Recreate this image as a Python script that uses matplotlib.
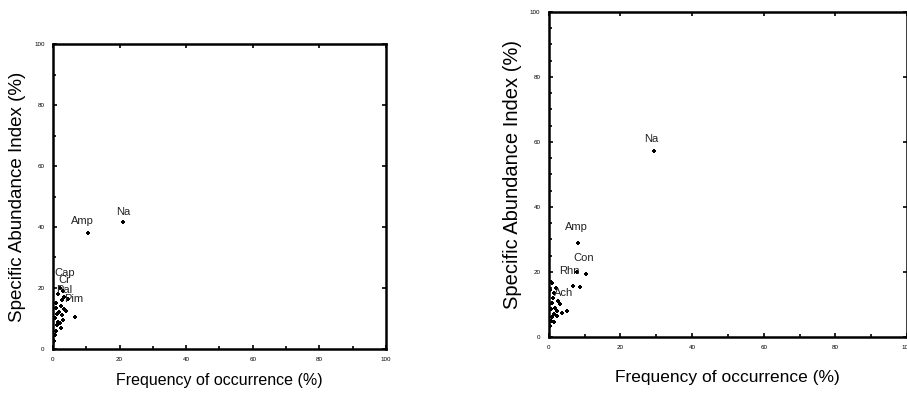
import matplotlib.pyplot as plt
from matplotlib.ticker import MultipleLocator

plt.rcParams['font.family'] = ['Liberation Sans', 'DejaVu Sans']

# left panel
left_freq = [21.0, 10.5, 0.4, 0.7, 1.0, 1.3, 0.6, 1.6, 2.0, 2.6, 3.0, 1.8, 2.3,
             1.0, 3.4, 4.0, 6.5, 2.8, 3.2, 1.5, 4.6, 2.0, 3.0, 0.8, 1.2, 2.5]
left_sai = [41.5, 38.0, 2.5, 4.5, 6.0, 8.0, 10.0, 9.0, 8.5, 11.0, 9.5, 12.0, 14.0,
            15.0, 13.0, 12.5, 10.5, 16.0, 17.0, 18.0, 16.5, 20.0, 19.0, 13.5, 11.5, 7.0]
left_labels = {'Na': (19.0, 44.0), 'Amp': (5.5, 41.0), 'Cap': (0.5, 24.0),
               'Cr': (1.5, 21.5), 'Pal': (0.8, 18.5), 'Pim': (3.5, 15.5)}

# right panel
right_freq = [29.4, 8.2, 10.5, 7.8, 6.8, 8.7, 5.1, 0.3, 0.6, 1.0, 1.4, 0.5, 1.8, 2.2,
              0.8, 1.2, 2.6, 3.2, 1.6, 0.4, 2.0, 3.8, 1.0, 0.6, 1.4, 2.4]
right_sai = [57.3, 29.0, 19.3, 20.0, 15.8, 15.4, 7.9, 3.5, 5.0, 6.0, 7.0, 8.5, 9.0, 8.0,
             10.5, 12.0, 11.0, 10.0, 13.5, 14.5, 15.0, 7.5, 16.5, 17.0, 4.5, 6.5]
right_labels = {'Na': (26.5, 60.0), 'Amp': (4.5, 33.0), 'Con': (6.8, 23.5),
                'Rhn': (3.0, 19.5), 'Ach': (1.5, 12.5)}

fig = plt.figure(figsize=(9.07, 3.93), dpi=100)
ax1 = fig.add_axes([0.0584, 0.112, 0.367, 0.776])
ax2 = fig.add_axes([0.605, 0.1425, 0.395, 0.827])

for ax, fx, sy, labs, xs, ys, xpad in [
        (ax1, left_freq, left_sai, left_labels, 11.5, 13.5, 8),
        (ax2, right_freq, right_sai, right_labels, 12.5, 14.5, 14)]:
    ax.scatter(fx, sy, marker='P', s=11, color='black', linewidths=0)
    for name, (tx, ty) in labs.items():
        ax.text(tx, ty, name, fontsize=8, color='#222222')
    ax.set_xlim(0, 100)
    ax.set_ylim(0, 100)
    ax.set_xticks([0, 20, 40, 60, 80, 100])
    ax.set_yticks([0, 20, 40, 60, 80, 100])
    ax.tick_params(direction='in', labelsize=4.5, length=3, width=1.2, pad=6,
                   right=True, top=True)
    ax.tick_params(which='minor', direction='in', length=2, width=1.2)
    for s in ax.spines.values():
        s.set_linewidth(1.8)
    ax.set_xlabel('Frequency of occurrence (%)', fontsize=xs, labelpad=xpad)
    ax.set_ylabel('Specific Abundance Index (%)', fontsize=ys, labelpad=6)

ax1.xaxis.set_minor_locator(MultipleLocator(10))
ax1.yaxis.set_minor_locator(MultipleLocator(10))
ax2.yaxis.set_minor_locator(MultipleLocator(5))
ax2.xaxis.set_minor_locator(MultipleLocator(10))

fig.savefig('out.png', dpi=100)
